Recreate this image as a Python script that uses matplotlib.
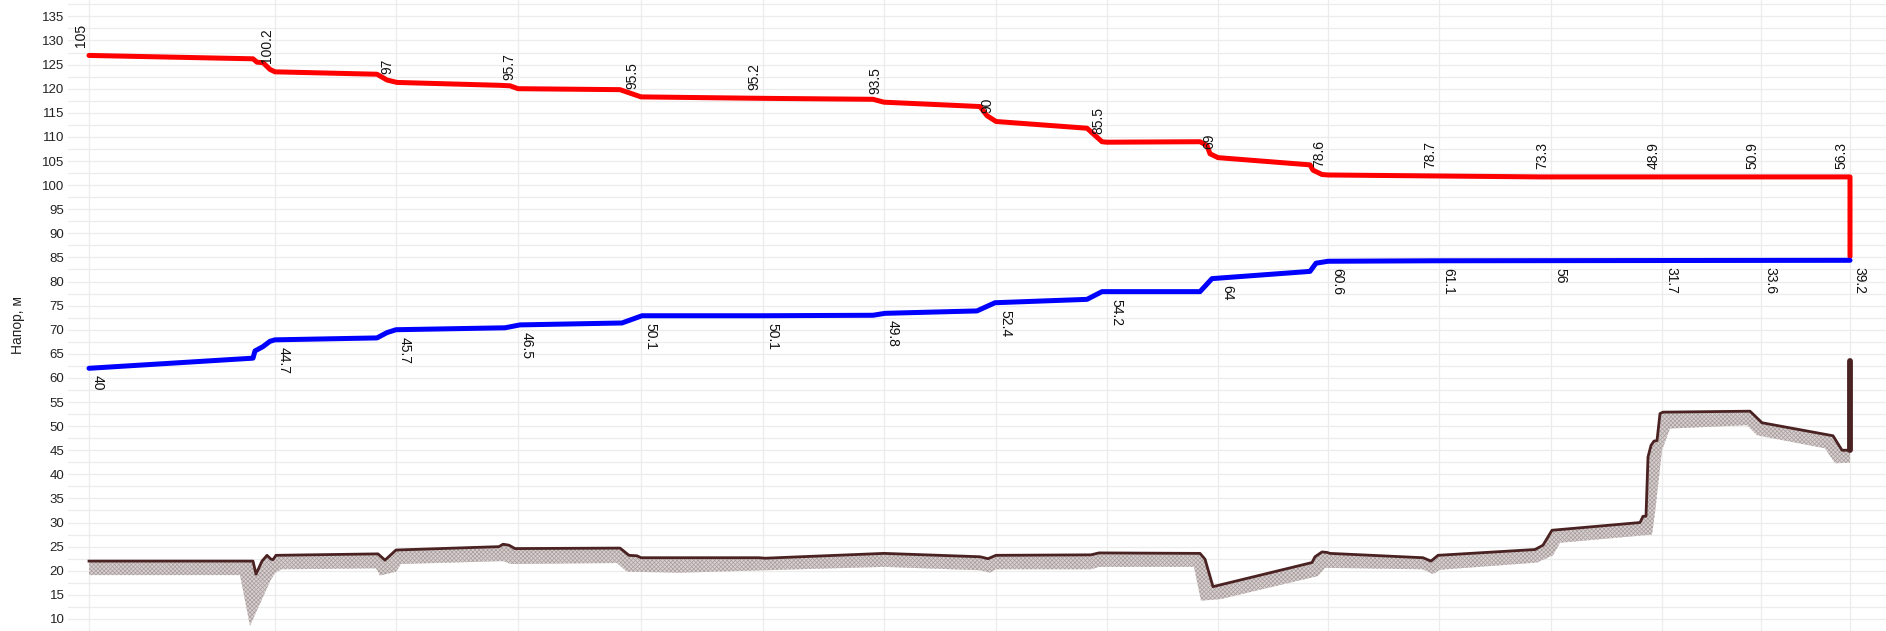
import numpy as np
import matplotlib
matplotlib.use("Agg")
import matplotlib.pyplot as plt

plt.rcParams['font.family'] = ['Liberation Sans', 'DejaVu Sans']
plt.rcParams['hatch.linewidth'] = 0.5

# ---- data (chainage along the route, head in metres) ----
node_x = [0, 186, 307, 429, 552, 674, 795, 907, 1018, 1129, 1239, 1350, 1462, 1573, 1672, 1761]
supply_labels = ["105", "100.2", "97", "95.7", "95.5", "95.2", "93.5", "90", "85.5", "69",
                 "78.6", "78.7", "73.3", "48.9", "50.9", "56.3"]
return_labels = ["40", "44.7", "45.7", "46.5", "50.1", "50.1", "49.8", "52.4", "54.2", "64",
                 "60.6", "61.1", "56", "31.7", "33.6", "39.2"]

supply_x = [0, 164, 168, 174, 181, 186, 288, 298, 308, 411, 421, 429, 531, 552, 674, 784, 795,
            891, 898, 907, 998, 1013, 1018, 1111, 1118, 1121, 1129, 1221, 1224, 1233, 1239,
            1344, 1451, 1761, 1761]
supply_y = [126.9, 126.2, 125.5, 125.4, 124.0, 123.5, 123.0, 121.8, 121.3, 120.7, 120.6, 120.0,
            119.8, 118.3, 118.0, 117.8, 117.2, 116.3, 114.4, 113.2, 111.8, 109.0, 108.9, 109.0,
            108.2, 106.5, 105.7, 104.2, 103.1, 102.2, 102.1, 101.9, 101.7, 101.7, 85.2]

return_x = [0, 164, 166, 174, 181, 186, 288, 298, 307, 416, 431, 533, 553, 675, 784, 796, 888,
            906, 998, 1013, 1111, 1123, 1221, 1227, 1239, 1344, 1761]
return_y = [62.0, 64.1, 65.6, 66.5, 67.6, 67.9, 68.3, 69.4, 70.0, 70.4, 71.0, 71.4, 72.9, 72.9,
            73.0, 73.4, 73.9, 75.6, 76.3, 77.9, 77.9, 80.6, 82.1, 83.8, 84.2, 84.3, 84.4]

ground_x = [0, 164, 167, 173, 178, 182, 184, 187, 289, 296, 307, 410, 414, 420, 426, 531, 540,
            548, 552, 670, 676, 795, 891, 899, 907, 1002, 1010, 1111, 1116, 1124, 1223, 1226,
            1233, 1238, 1241, 1334, 1342, 1349, 1446, 1454, 1463, 1551, 1554, 1557, 1559, 1562,
            1565, 1568, 1571, 1574, 1661, 1673, 1744, 1753, 1761, 1761]
ground_y = [22.0, 22.0, 19.3, 22.0, 23.2, 22.4, 22.3, 23.2, 23.5, 22.2, 24.3, 25.0, 25.5, 25.3,
            24.6, 24.7, 23.2, 23.1, 22.7, 22.7, 22.6, 23.6, 22.9, 22.5, 23.2, 23.3, 23.7, 23.6,
            22.4, 16.7, 21.7, 22.9, 23.9, 23.8, 23.6, 22.7, 22.0, 23.2, 24.4, 25.3, 28.4, 30.0,
            31.3, 31.3, 43.6, 46.0, 46.9, 47.0, 52.6, 52.9, 53.1, 50.7, 48.0, 45.0, 45.0, 63.6]

shadow_x = [0, 151, 161, 182, 186, 192, 287, 291, 307, 312, 414, 422, 528, 538, 591, 675, 795,
            891, 901, 907, 1002, 1010, 1105, 1112, 1131, 1229, 1236, 1334, 1344, 1351, 1448,
            1464, 1471, 1563, 1566, 1573, 1581, 1658, 1668, 1736, 1746, 1761]
shadow_y = [19.1, 19.1, 8.6, 18.2, 19.5, 20.3, 20.5, 19.0, 19.8, 21.4, 22.0, 21.4, 21.6, 19.8,
            19.6, 20.1, 20.8, 20.1, 19.6, 20.3, 20.3, 20.8, 20.8, 13.8, 14.1, 18.9, 20.6, 20.3,
            19.3, 20.2, 21.7, 23.2, 25.8, 27.5, 32.0, 45.0, 49.5, 50.2, 48.1, 45.4, 42.3, 42.4]

# ---- figure ----
W, H = 1886, 631
fig = plt.figure(figsize=(W / 100, H / 100), dpi=100)
ax = fig.add_axes([68 / W, 0, 1 - 68 / W, 1])
ax.set_xlim(-21, 1797)
ax.set_ylim(8.35, 138.4)

for s in ax.spines.values():
    s.set_visible(False)

ax.set_yticks(np.arange(10, 136, 5))
ax.set_yticks(np.arange(7.5, 138.5, 5), minor=True)
ax.set_xticks(node_x)
ax.set_xticklabels([])
ax.tick_params(axis='both', which='both', length=0)
ax.tick_params(axis='y', labelsize=9.5, labelcolor='#222222', pad=2.5)
ax.grid(True, which='both', axis='y', color='#ececec', linewidth=0.9)
ax.grid(True, which='major', axis='x', color='#ececec', linewidth=0.9)
ax.set_axisbelow(True)

# ground shadow band
poly_x = list(ground_x[:-1]) + list(shadow_x[::-1])
poly_y = list(ground_y[:-1]) + list(shadow_y[::-1])
ax.fill(poly_x, poly_y, facecolor='#d8d0d0', edgecolor='#a99d9d', hatch='xxxxxxxx',
        linewidth=0, zorder=2)

# ground line
ax.plot(ground_x[:-1], ground_y[:-1], color='#4a2222', linewidth=2.0, zorder=3,
        solid_joinstyle='round')
ax.plot(ground_x[-2:], ground_y[-2:], color='#4a2222', linewidth=4.2, zorder=3,
        solid_capstyle='round')

# supply / return heads
ax.plot(supply_x, supply_y, color='#ff0000', linewidth=3.6, zorder=4,
        solid_joinstyle='round', solid_capstyle='round')
ax.plot(return_x, return_y, color='#0000ff', linewidth=3.6, zorder=4,
        solid_joinstyle='round', solid_capstyle='round')

# value labels
sup_at_nodes = np.interp(node_x, supply_x[:-1], supply_y[:-1])
ret_at_nodes = np.interp(node_x, return_x, return_y)
for xn, yv, lab in zip(node_x, sup_at_nodes, supply_labels):
    ax.annotate(lab, (xn, yv), xytext=(-1, 6), textcoords='offset points',
                rotation=90, ha='right', va='bottom', fontsize=10, color='#111111', zorder=5)
for xn, yv, lab in zip(node_x, ret_at_nodes, return_labels):
    ax.annotate(lab, (xn, yv), xytext=(1.5, -5), textcoords='offset points',
                rotation=270, ha='left', va='top', fontsize=10, color='#111111', zorder=5)

fig.text(18 / W, 1 - 325 / H, "Напор, м", rotation=90, ha='center', va='center',
         fontsize=10, color='#222222')

fig.savefig("out.png", dpi=100)
